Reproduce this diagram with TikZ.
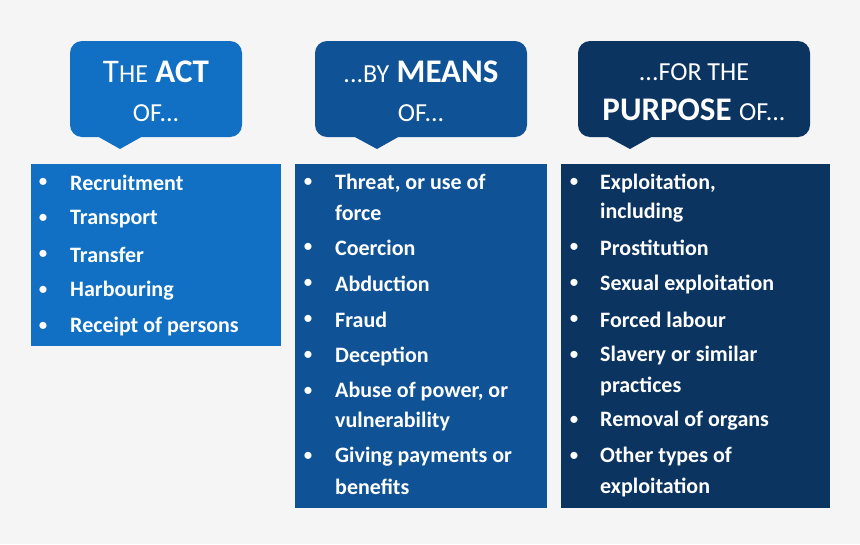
\documentclass[tikz,border=0pt]{standalone}
\usepackage{fontspec}
\setmainfont{Carlito}
\definecolor{bg}{HTML}{F5F5F5}
\definecolor{cA}{HTML}{1170C4}
\definecolor{cB}{HTML}{0F5296}
\definecolor{cC}{HTML}{0B3461}
\begin{document}
\begin{tikzpicture}[x=1pt,y=-1pt,
  li/.style={anchor=west,inner sep=0pt,text=white,font=\fontsize{22}{26}\selectfont\bfseries},
  bu/.style={anchor=center,inner sep=0pt,text=white,font=\fontsize{20}{24}\selectfont},
  hd/.style={align=center,text=white,inner sep=0pt,font=\fontsize{33}{40}\selectfont}]
\fill[bg] (0,0) rectangle (860,544);
\useasboundingbox (0,0) rectangle (860,544);
\newcommand{\sm}[1]{{\fontsize{26}{30}\selectfont #1}}
% callouts
\fill[cA,rounded corners=12pt] (70,41) rectangle (242,137);
\fill[cA] (97,136) -- (143,136) -- (120,149) -- cycle;
\fill[cB,rounded corners=12pt] (315,41) rectangle (527,137);
\fill[cB] (353,136) -- (400,136) -- (377,149) -- cycle;
\fill[cC,rounded corners=12pt] (578,41) rectangle (810,137);
\fill[cC] (606,136) -- (653,136) -- (630,149) -- cycle;
\node[hd] (h1a) at (156,72) {T\sm{HE} \textbf{ACT}};
\node[hd] (h1b) at (156,113) {\sm{OF...}};
\node[hd] (h2a) at (421,72) {\sm{...BY} \textbf{MEANS}};
\node[hd] (h2b) at (421,113) {\sm{OF...}};
\node[hd] (h3a) at (694,72) {\sm{...FOR THE}};
\node[hd] (h3b) at (694,110) {\textbf{PURPOSE} \sm{OF...}};
% boxes
\fill[cA] (31,164) rectangle (281,346);
\fill[cB] (295,164) rectangle (547,508);
\fill[cC] (561,164) rectangle (830,508);
% box 1
\foreach \y/\t [count=\i] in {183/Recruitment,219/Transport,255/Transfer,291/Harbouring,327/Receipt of persons}{
  \node[bu] (ba\i) at (43,\y) {•};
  \node[li] (ta\i) at (70,\y) {\t};}
% box 2
\foreach \y [count=\i] in {183,248,284,320,356,392,457}{\node[bu] (bb\i) at (308,\y) {•};}
\node[li] (tb1) at (335,183) {Threat, or use of};
\node[li] (tb1b) at (335,213) {force};
\node[li] (tb2) at (335,248) {Coercion};
\node[li] (tb3) at (335,284) {Abduction};
\node[li] (tb4) at (335,320) {Fraud};
\node[li] (tb5) at (335,356) {Deception};
\node[li] (tb6) at (335,392) {Abuse of power, or};
\node[li] (tb6b) at (335,422) {vulnerability};
\node[li] (tb7) at (335,457) {Giving payments or};
\node[li] (tb7b) at (335,487) {benefits};
% box 3
\foreach \y [count=\i] in {183,248,284,320,356,421,457}{\node[bu] (bc\i) at (574,\y) {•};}
\node[li] (tc1) at (600,183) {Exploitation,};
\node[li] (tc1b) at (600,213) {including};
\node[li] (tc2) at (600,248) {Prostitution};
\node[li] (tc3) at (600,284) {Sexual exploitation};
\node[li] (tc4) at (600,320) {Forced labour};
\node[li] (tc5) at (600,356) {Slavery or similar};
\node[li] (tc5b) at (600,386) {practices};
\node[li] (tc6) at (600,421) {Removal of organs};
\node[li] (tc7) at (600,457) {Other types of};
\node[li] (tc7b) at (600,487) {exploitation};
\end{tikzpicture}
\end{document}
